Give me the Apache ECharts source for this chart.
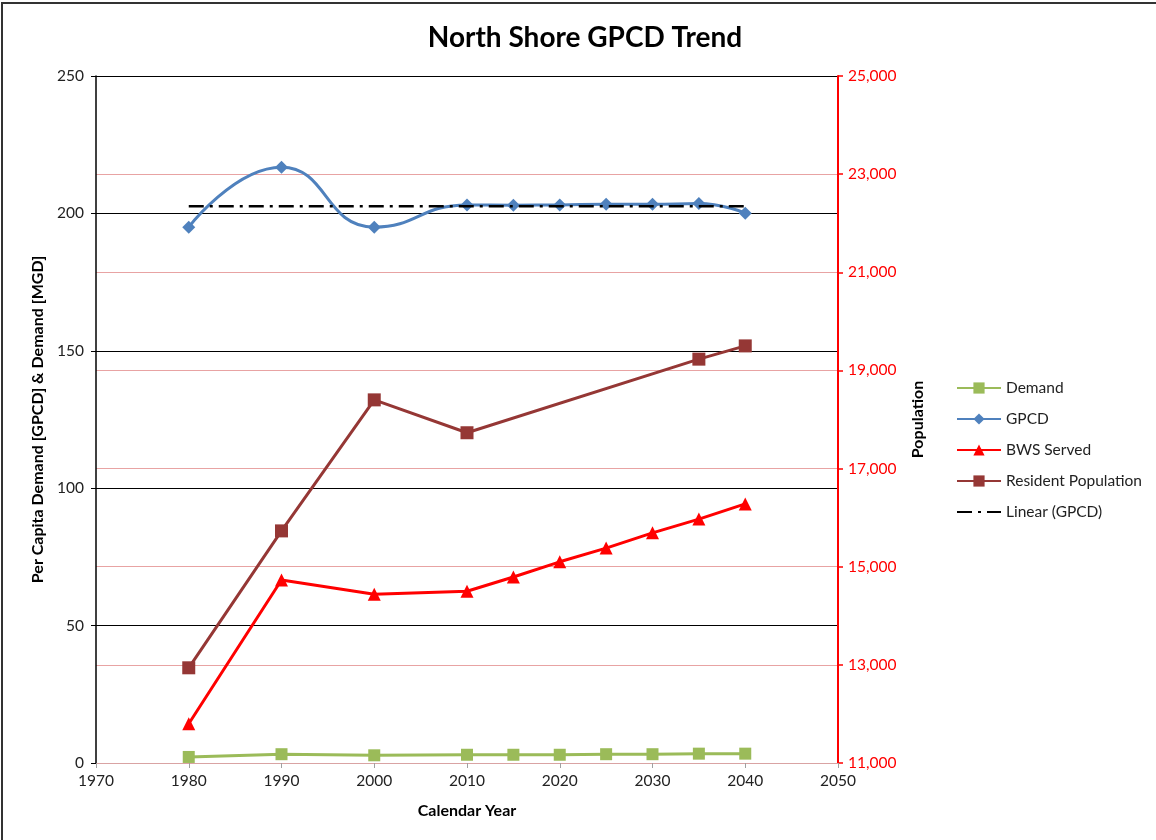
<!DOCTYPE html>
<html><head><meta charset="utf-8">
<script src="https://cdn.jsdelivr.net/npm/echarts@6/dist/echarts.min.js"></script>
<style>html,body{margin:0;padding:0;background:#fff}#c{width:1156px;height:840px}</style>
</head><body><div id="c"></div>
<script>
var years = [1980, 1990, 2000, 2010, 2015, 2020, 2025, 2030, 2035, 2040];
var demand = [2.2, 3.2, 2.8, 3.0, 3.0, 3.0, 3.2, 3.2, 3.4, 3.4];
var gpcd = [195.0, 216.8, 195.0, 203.1, 203.0, 203.1, 203.3, 203.3, 203.6, 200.1];
var bwsServed = [11800, 14730, 14440, 14500, 14790, 15100, 15380, 15690, 15970, 16280];
var popYears = [1980, 1990, 2000, 2010, 2035, 2040];
var residentPop = [12940, 15730, 18400, 17730, 19230, 19500];
var linearYears = [1980, 2040];
var linearGpcd = [202.6, 202.6];
var xTicks = [1970, 2050, 10];
var leftTicks = [0, 250, 50];
var rightTicks = [11000, 25000, 2000];

function pairs(xs, ys){ return xs.map(function(x,i){ return [x, ys[i]]; }); }
var FONT = 'Lato, "Open Sans", sans-serif';
var chart = echarts.init(document.getElementById('c'), null, {renderer:'canvas'});
chart.setOption({
  backgroundColor: '#fff',
  animation: false,
  textStyle: {fontFamily: FONT},
  title: {text: 'North Shore GPCD Trend', left: 580, top: 19, textAlign: 'center',
    textStyle: {fontSize: 28, fontWeight: 'bold', color: '#000', fontFamily: FONT}},
  graphic: [{type: 'rect', shape: {x: 2, y: 3, width: 1170, height: 850},
    style: {fill: 'none', stroke: '#333', lineWidth: 2}, silent: true}],
  grid: {left: 96, right: 318, top: 76, bottom: 77},
  legend: {orient: 'vertical', left: 951, top: 375, itemWidth: 44, itemHeight: 14, itemGap: 15,
    textStyle: {fontSize: 15.5, color: '#222', fontFamily: FONT},
    data: ['Demand', 'GPCD', 'BWS Served', 'Resident Population',
      {name: 'Linear (GPCD)', itemStyle: {opacity: 0}}]},
  xAxis: {type: 'value', min: xTicks[0], max: xTicks[1], interval: xTicks[2],
    name: 'Calendar Year', nameLocation: 'middle', nameGap: 40,
    nameTextStyle: {fontSize: 16, fontWeight: 'bold', color: '#000'},
    axisLine: {lineStyle: {color: '#D9A3A3', width: 1}},
    axisTick: {show: true, length: 5, lineStyle: {color: '#A0A0A0'}},
    axisLabel: {fontSize: 15.5, color: '#222', margin: 10, formatter: function(v){ return String(v); }},
    splitLine: {show: false}},
  yAxis: [{type: 'value', min: leftTicks[0], max: leftTicks[1], interval: leftTicks[2],
    name: 'Per Capita Demand [GPCD] & Demand [MGD]', nameLocation: 'middle', nameRotate: 90, nameGap: 41,
    nameTextStyle: {fontSize: 16, fontWeight: 'bold', color: '#000'},
    axisLine: {show: true, lineStyle: {color: '#000', width: 1.5}},
    axisTick: {show: true, length: 5, lineStyle: {color: '#000'}},
    axisLabel: {fontSize: 15.5, color: '#222', margin: 12},
    splitLine: {show: true, showMinLine: false, lineStyle: {color: '#000', width: 1}}},
   {type: 'value', position: 'right', min: rightTicks[0], max: rightTicks[1], interval: rightTicks[2],
    name: 'Population', nameLocation: 'middle', nameRotate: 90, nameGap: 72,
    nameTextStyle: {fontSize: 16, fontWeight: 'bold', color: '#000'},
    axisLine: {show: true, lineStyle: {color: '#FF0000', width: 2}},
    axisTick: {show: true, length: 5, lineStyle: {color: '#FF0000', width: 1.5}},
    axisLabel: {fontSize: 15.5, color: '#FF0000', margin: 10,
      formatter: function(v){ return v.toLocaleString('en-US'); }},
    splitLine: {show: true, showMaxLine: false, lineStyle: {color: '#E8A3A3', width: 1}}}],
  series: [
    {name: 'Demand', type: 'line', yAxisIndex: 0, data: pairs(years, demand),
     symbol: 'rect', symbolSize: 12, lineStyle: {color: '#9BBB59', width: 3},
     itemStyle: {color: '#9BBB59'}, z: 3},
    {name: 'GPCD', type: 'line', yAxisIndex: 0, data: pairs(years, gpcd), smooth: 0.5,
     symbol: 'diamond', symbolSize: 13, lineStyle: {color: '#4F81BD', width: 3},
     itemStyle: {color: '#4F81BD'}, z: 3},
    {name: 'BWS Served', type: 'line', yAxisIndex: 1, data: pairs(years, bwsServed),
     symbol: 'triangle', symbolSize: 13, lineStyle: {color: '#FF0000', width: 3},
     itemStyle: {color: '#FF0000'}, z: 3},
    {name: 'Resident Population', type: 'line', yAxisIndex: 1, data: pairs(popYears, residentPop),
     symbol: 'rect', symbolSize: 13, lineStyle: {color: '#953735', width: 3},
     itemStyle: {color: '#953735'}, z: 3},
    {name: 'Linear (GPCD)', type: 'line', yAxisIndex: 0, data: pairs(linearYears, linearGpcd),
     symbol: 'none', lineStyle: {color: '#000', width: 2.5, type: [15, 6, 3, 6]},
     itemStyle: {color: '#000'}, z: 4}
  ]
});
</script></body></html>
